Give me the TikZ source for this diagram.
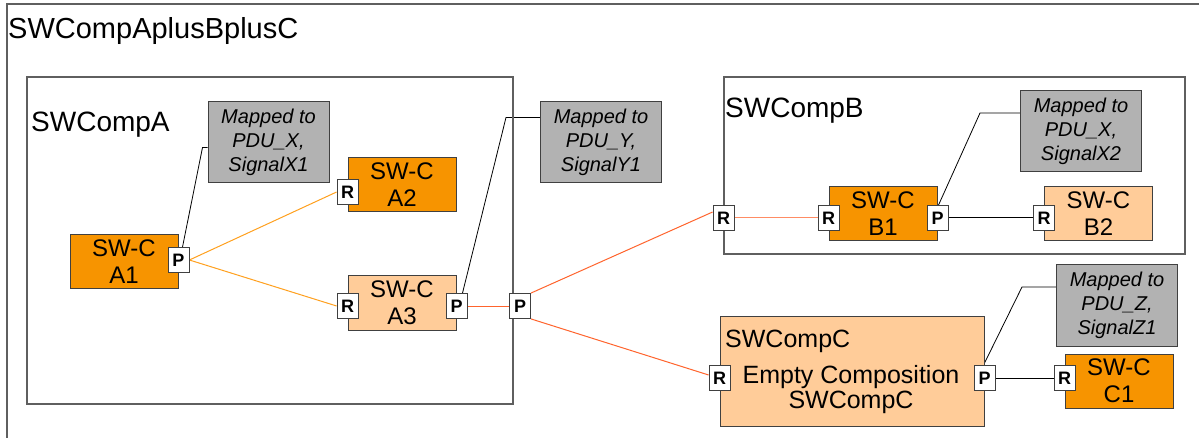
\documentclass[tikz,border=0pt]{standalone}
\usepackage{fontspec}
\setmainfont{Liberation Sans}
\usetikzlibrary{positioning}
\definecolor{swcdark}{RGB}{247,148,0}
\definecolor{swclight}{RGB}{255,204,153}
\definecolor{notegray}{RGB}{178,178,178}
\definecolor{framegray}{RGB}{95,95,95}
\definecolor{wireamber}{RGB}{255,160,30}
\definecolor{wirered}{RGB}{255,100,45}
\definecolor{wiresalmon}{RGB}{255,140,100}
\pgfdeclarelayer{background}
\pgfdeclarelayer{wires}
\pgfsetlayers{background,wires,main}
\begin{document}
\begin{tikzpicture}[x=1pt,y=-1pt,
    swc/.style={draw=black!75,line width=1pt,minimum width=108pt,minimum height=54pt,inner sep=0pt,align=center,font=\fontsize{24}{27}\selectfont},
    note/.style={draw=black!75,fill=notegray,line width=1pt,minimum width=121pt,minimum height=81pt,inner sep=0pt,align=center,font=\fontsize{20}{24}\selectfont\itshape},
    port/.style={draw=black!75,fill=white,line width=0.8pt,minimum width=21pt,minimum height=25pt,inner sep=0pt,font=\fontsize{18}{18}\selectfont\bfseries},
    compframe/.style={draw=framegray,line width=1.2pt},
    complabel/.style={anchor=base west,inner sep=0pt,font=\fontsize{28}{30}\selectfont},
    lead/.style={black,line width=0.8pt},
    wire/.style={line width=1pt}]
    \useasboundingbox (0,0) rectangle (1199,438);
    \begin{pgfonlayer}{background}
        \fill[white] (0,0) rectangle (1199,438);
    \end{pgfonlayer}
    % outer composition
    \draw[compframe] (7,445) -- (7,4) -- (1210,4);
    \node[complabel,font=\fontsize{29}{30}\selectfont] (ttl) at (8,39) {SWCompAplusBplusC};
    % SWCompA
    \draw[compframe] (27,77) rectangle (513,404);
    \node[complabel] (alabel) at (31,132) {SWCompA};
    \node[swc,fill=swcdark] (a1) at (124,262) {SW-C\\A1};
    \node[swc,fill=swcdark] (a2) at (402,185) {SW-C\\A2};
    \node[swc,fill=swclight] (a3) at (402,303) {SW-C\\A3};
    \node[note] (x1) at (268.5,142.5) {Mapped to\\PDU\_X,\\SignalX1};
    \node[note] (y1) at (601,142.5) {Mapped to\\PDU\_Y,\\SignalY1};
    \node[port] (a1p) at ([yshift=2pt]a1.east) {P};
    \node[port] (a2r) at ([yshift=-7pt]a2.west) {R};
    \node[port] (a3r) at ([yshift=-3pt]a3.west) {R};
    \node[port] (a3p) at ([yshift=-3pt]a3.east) {P};
    \node[port] (ap) at (520,306) {P};
    % SWCompB
    \draw[compframe] (724,77) rectangle (1185,254);
    \node[complabel] (blabel) at (725,118) {SWCompB};
    \node[swc,fill=swcdark] (b1) at (883,213.5) {SW-C\\B1};
    \node[swc,fill=swclight] (b2) at (1098.5,213.5) {SW-C\\B2};
    \node[note] (x2) at (1081,131) {Mapped to\\PDU\_X,\\SignalX2};
    \node[port] (br) at (723.5,218) {R};
    \node[port] (b1r) at (b1.west |- br) {R};
    \node[port] (b1p) at (b1.east |- br) {P};
    \node[port] (b2r) at (b2.west |- br) {R};
    % SWCompC
    \node[swc,fill=swclight,minimum width=264pt,minimum height=110pt] (c) at (852,371) {};
    \node[complabel,font=\fontsize{25}{27}\selectfont] (clabel) at (725,347) {SWCompC};
    \node[align=center,inner sep=0pt,font=\fontsize{25}{25}\selectfont,anchor=base] (cempty) at (851,408) {Empty Composition\\SWCompC};
    \node[swc,fill=swcdark] (c1) at (1119,381) {SW-C\\C1};
    \node[note] (z1) at (1117,305.5) {Mapped to\\PDU\_Z,\\SignalZ1};
    \node[port] (cr) at ([yshift=-7pt]c.west) {R};
    \node[port] (cp) at ([yshift=-7pt]c.east) {P};
    \node[port] (c1r) at (c1.west |- cp) {R};
    % connectors
    \begin{pgfonlayer}{wires}
        \draw[wire,wireamber] (a1p.east) -- (a2r.west);
        \draw[wire,wireamber] (a1p.east) -- (a3r.west);
        \draw[wire,wirered] (a3p) -- (ap);
        \draw[wire,wirered] (ap.north east) -- ([yshift=6pt]br.west);
        \draw[wire,wirered] (ap.south east) -- ([yshift=3pt]cr.west);
        \draw[wire,wiresalmon] (br) -- (b1r);
        \draw[wire,black] (b1p) -- (b2r);
        \draw[wire,black] (cp) -- (c1r);
        % mapping notes
        \draw[lead] ([xshift=4pt]a1p.north) -- ([xshift=-5pt,yshift=-5pt]x1.west) -- ([yshift=-5pt]x1.west);
        \draw[lead] ([xshift=6pt]a3p.north) -- ([xshift=-34pt,yshift=25pt]y1.west) -- ([yshift=25pt]y1.west);
        \draw[lead] ([xshift=1pt]b1p.north) -- ([xshift=-40pt,yshift=18pt]x2.west) -- ([yshift=18pt]x2.west);
        \draw[lead] ([xshift=-1pt]cp.north) -- ([xshift=-34pt,yshift=18.5pt]z1.west) -- ([yshift=18.5pt]z1.west);
    \end{pgfonlayer}
\end{tikzpicture}
\end{document}
